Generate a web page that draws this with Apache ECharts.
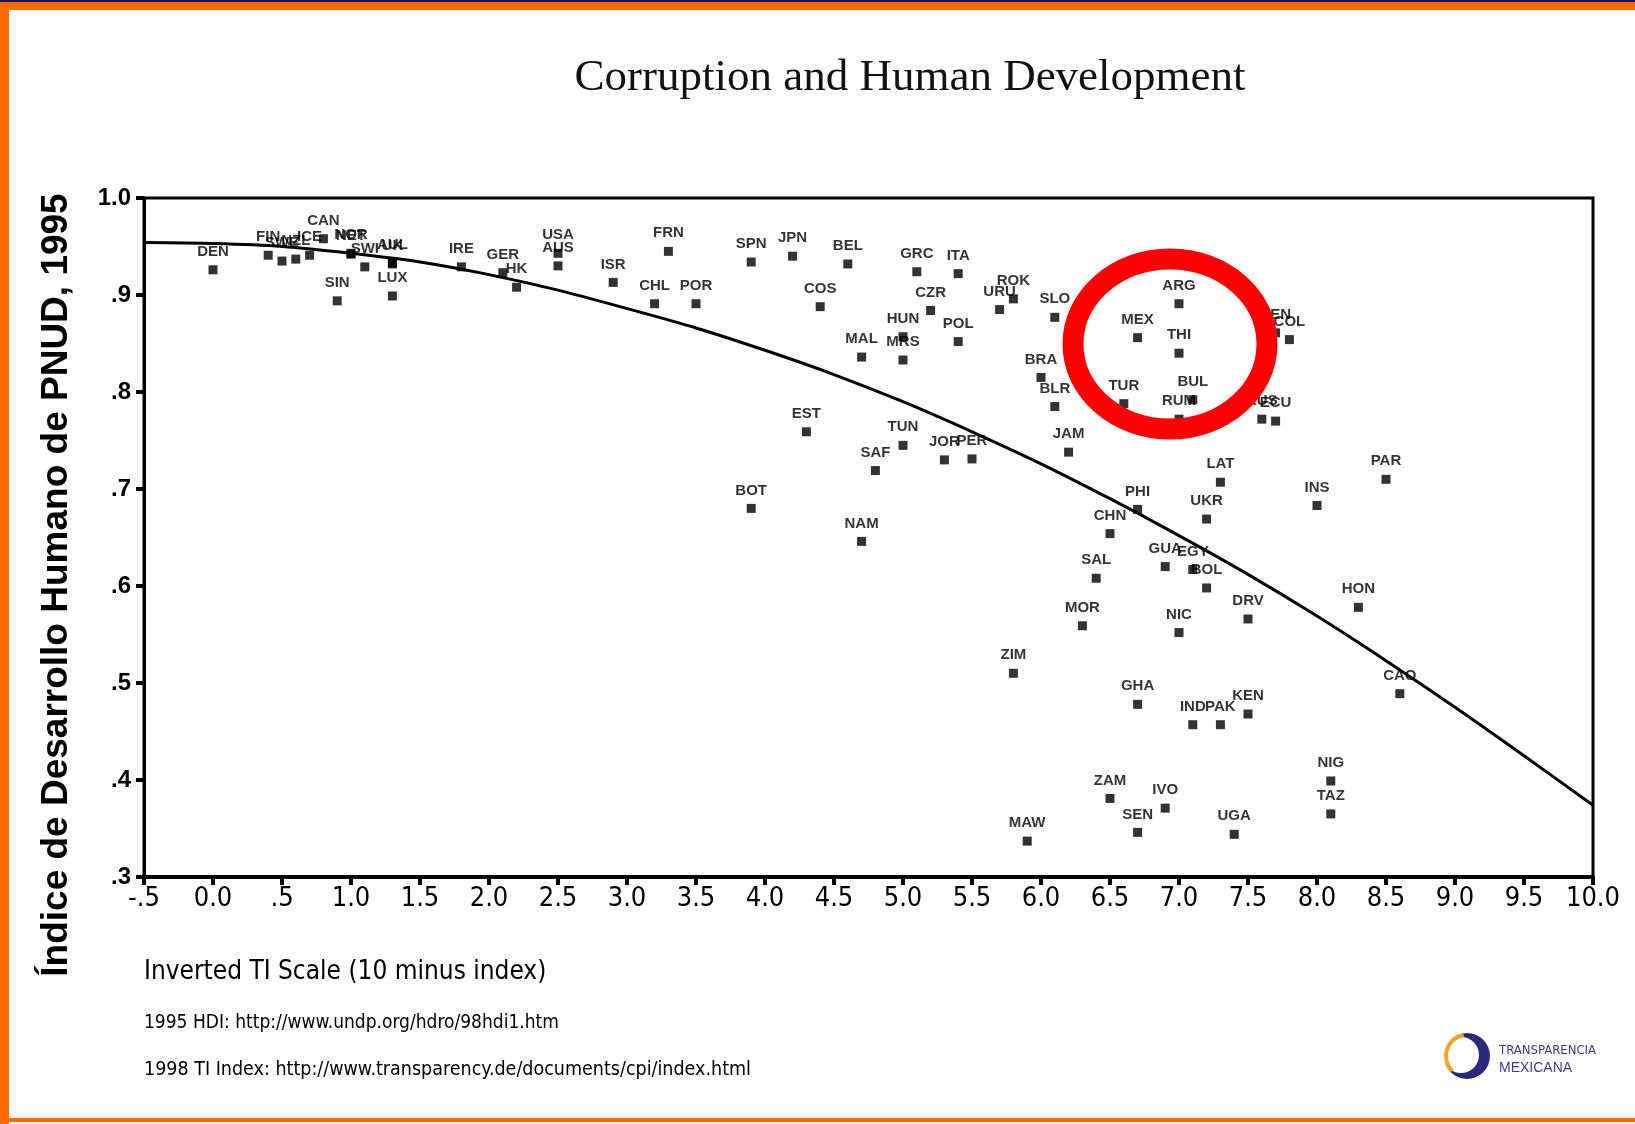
<!DOCTYPE html>
<html lang="en">
    <head>
        <meta charset="UTF-8">
        <title>Corruption and Human Development</title>
        <script src="https://cdn.jsdelivr.net/npm/echarts@6/dist/echarts.min.js"></script>
        <style>
            html, body { margin: 0; padding: 0; background: #fff; }
        </style>
    </head>
    <body>
        <!-- chart container, same size as the window -->
        <div id="main" style="width: 1635px;height:1124px;"></div>
        <script>
            // country codes, inverted TI score (10 minus 1998 CPI) and 1995 HDI
            var countries = ['DEN','FIN','SWE','NZL','ICE','CAN','NET','NOR','SWI','AUL','UK','LUX','SIN','IRE','GER','HK',
                'AUS','USA','ISR','CHL','FRN','POR','BOT','SPN','JPN','EST','COS','BEL','MAL','NAM','SAF','HUN','MRS','TUN',
                'GRC','CZR','JOR','ITA','POL','PER','URU','ROK','ZIM','MAW','BRA','BLR','SLO','JAM','MOR','SAL','CHN','ZAM',
                'TUR','GHA','MEX','PHI','SEN','IVO','GUA','ARG','NIC','RUM','THI','BUL','EGY','IND','BOL','UKR','LAT','PAK',
                'UGA','KEN','DRV','RUS','ECU','VEN','COL','INS','NIG','TAZ','HON','PAR','CAO'];
            var tiInverted = [0.0,0.4,0.5,0.6,0.7,0.8,1.0,1.0,1.1,1.3,1.3,1.3,0.9,1.8,2.1,2.2,
                2.5,2.5,2.9,3.2,3.3,3.5,3.9,3.9,4.2,4.3,4.4,4.6,4.7,4.7,4.8,5.0,5.0,5.0,
                5.1,5.2,5.3,5.4,5.4,5.5,5.7,5.8,5.8,5.9,6.0,6.1,6.1,6.2,6.3,6.4,6.5,6.5,
                6.6,6.7,6.7,6.7,6.7,6.9,6.9,7.0,7.0,7.0,7.0,7.1,7.1,7.1,7.2,7.2,7.3,7.3,
                7.4,7.5,7.5,7.6,7.7,7.7,7.8,8.0,8.1,8.1,8.3,8.5,8.6];
            var hdi = [.926,.941,.935,.937,.941,.958,.942,.943,.929,.933,.932,.899,.894,.929,.923,.908,
                .930,.943,.913,.891,.945,.891,.680,.934,.940,.759,.888,.932,.836,.646,.719,.857,.833,.745,
                .924,.884,.730,.922,.852,.731,.885,.896,.510,.337,.815,.785,.877,.738,.559,.608,.654,.381,
                .788,.478,.856,.679,.346,.371,.620,.891,.552,.772,.840,.792,.617,.457,.598,.669,.707,.457,
                .344,.468,.566,.772,.770,.861,.854,.683,.399,.365,.578,.710,.489];

            // fitted curve
            var fitX = [-0.5, 0.0, 0.5, 1.0, 1.5, 2.0, 2.5, 3.0, 3.5, 4.0, 4.5, 5.0, 5.5, 6.0, 6.5, 7.0, 7.5, 8.0, 8.5, 9.0, 9.5, 10.0];
            var fitY = [.954, .953, .950, .943, .934, .921, .905, .886, .866, .843, .818, .790, .759, .726, .690, .652, .612, .569, .523, .475, .425, .374];

            // tick labels
            var xTickLabels = ['-.5','0.0','.5','1.0','1.5','2.0','2.5','3.0','3.5','4.0','4.5','5.0',
                '5.5','6.0','6.5','7.0','7.5','8.0','8.5','9.0','9.5','10.0'];
            var yTickLabels = ['.3','.4','.5','.6','.7','.8','.9','1.0'];

            var narrow = "'Liberation Sans Narrow', 'DejaVu Sans Condensed', 'Liberation Sans', sans-serif";
            var orange = '#ff6a00';

            var myChart = echarts.init(document.getElementById('main'));

            var points = countries.map(function (c, i) {
                return [tiInverted[i], hdi[i], c];
            });
            var fit = fitX.map(function (x, i) {
                return [x, fitY[i]];
            });

            var option = {
                backgroundColor: '#fff',
                animation: false,
                grid: {
                    left: 144, right: 42, top: 198, bottom: 247,
                    show: true, borderColor: '#000', borderWidth: 3
                },
                xAxis: {
                    type: 'value',
                    min: -0.5, max: 10, interval: 0.5,
                    splitLine: { show: false },
                    axisLine: { onZero: false, lineStyle: { color: '#000', width: 4 } },
                    axisTick: { length: 8, lineStyle: { color: '#000', width: 4 } },
                    axisLabel: {
                        color: '#000', fontSize: 27, fontFamily: narrow, margin: 8,
                        showMinLabel: true, showMaxLabel: true,
                        formatter: function (v) { return xTickLabels[Math.round((v + 0.5) / 0.5)]; }
                    }
                },
                yAxis: {
                    type: 'value',
                    min: 0.3, max: 1.0, interval: 0.1,
                    splitLine: { show: false },
                    axisLine: { onZero: false, lineStyle: { color: '#000', width: 3 } },
                    axisTick: { length: 8, lineStyle: { color: '#000', width: 4 } },
                    axisLabel: {
                        color: '#000', fontSize: 24, fontWeight: 'bold', fontFamily: "'Liberation Sans', Arial, sans-serif", margin: 13,
                        formatter: function (v) { return yTickLabels[Math.round((v - 0.3) / 0.1)]; }
                    }
                },
                series: [{
                    name: 'fit',
                    type: 'line',
                    data: fit,
                    smooth: 0.3,
                    symbol: 'none',
                    silent: true,
                    z: 1,
                    lineStyle: { color: '#000', width: 3 }
                }, {
                    name: 'countries',
                    type: 'scatter',
                    data: points,
                    symbol: 'rect',
                    symbolSize: 9,
                    z: 2,
                    itemStyle: { color: '#000' },
                    label: {
                        show: true,
                        position: 'top',
                        distance: 6,
                        color: '#000',
                        fontSize: 15,
                        fontWeight: 'bold',
                        fontFamily: "'Liberation Sans', Arial, sans-serif",
                        formatter: function (p) { return p.data[2]; }
                    },
                    labelLayout: { hideOverlap: false }
                }],
                graphic: [
                    // orange frame
                    { type: 'rect', shape: { x: 0, y: 0, width: 1635, height: 10 }, style: { fill: orange }, z: 50 },
                    { type: 'rect', shape: { x: 0, y: 0, width: 1635, height: 2 }, style: { fill: '#14145a' }, z: 51 },
                    { type: 'rect', shape: { x: 0, y: 0, width: 9, height: 1124 }, style: { fill: orange }, z: 50 },
                    { type: 'rect', shape: { x: 0, y: 1118, width: 1635, height: 4 }, style: { fill: orange }, z: 50 },
                    // title
                    {
                        type: 'text', x: 910, y: 78, z: 60,
                        style: {
                            text: 'Corruption and Human Development', fill: '#111',
                            font: "45px 'Liberation Serif', 'DejaVu Serif', serif",
                            align: 'center', verticalAlign: 'middle'
                        }
                    },
                    // y axis title
                    {
                        type: 'text', x: 57, y: 585, rotation: Math.PI / 2, z: 60,
                        style: {
                            text: 'Índice de Desarrollo Humano de PNUD, 1995', fill: '#000',
                            font: "bold 37px 'Liberation Sans', Arial, sans-serif",
                            align: 'center', verticalAlign: 'middle'
                        }
                    },
                    // x axis title and sources
                    {
                        type: 'text', x: 144, y: 972, z: 60,
                        style: {
                            text: 'Inverted TI Scale (10 minus index)', fill: '#000',
                            font: '26px ' + narrow, verticalAlign: 'middle'
                        }
                    },
                    {
                        type: 'text', x: 144, y: 1023, z: 60,
                        style: {
                            text: '1995 HDI: http://www.undp.org/hdro/98hdi1.htm', fill: '#000',
                            font: '19px ' + narrow, verticalAlign: 'middle'
                        }
                    },
                    {
                        type: 'text', x: 144, y: 1070, z: 60,
                        style: {
                            text: '1998 TI Index: http://www.transparency.de/documents/cpi/index.html', fill: '#000',
                            font: '19.5px ' + narrow, verticalAlign: 'middle'
                        }
                    },
                    // red highlight circle
                    {
                        type: 'ellipse', z: 100,
                        shape: { cx: 1170, cy: 344, rx: 97, ry: 85 },
                        style: { fill: 'none', stroke: '#ff0000', lineWidth: 21 }
                    },
                    // logo
                    { type: 'circle', shape: { cx: 1467, cy: 1056, r: 23 }, style: { fill: '#2b2a7a' }, z: 60 },
                    { type: 'circle', shape: { cx: 1461, cy: 1055, r: 18 }, style: { fill: '#fff' }, z: 61 },
                    {
                        type: 'arc', z: 62,
                        shape: { cx: 1467, cy: 1056, r: 21, startAngle: Math.PI * 0.75, endAngle: Math.PI * 1.45 },
                        style: { stroke: '#f4a623', lineWidth: 4, fill: 'none' }
                    },
                    {
                        type: 'text', x: 1499, y: 1051, z: 60,
                        style: { text: 'TRANSPARENCIA', fill: '#3d3d85', font: "13px " + narrow, verticalAlign: 'middle' }
                    },
                    {
                        type: 'text', x: 1499, y: 1068, z: 60,
                        style: { text: 'MEXICANA', fill: '#3d3d85', font: "14px 'Liberation Sans', sans-serif", verticalAlign: 'middle' }
                    }
                ]
            };

            myChart.setOption(option);
        </script>
    </body>
</html>
